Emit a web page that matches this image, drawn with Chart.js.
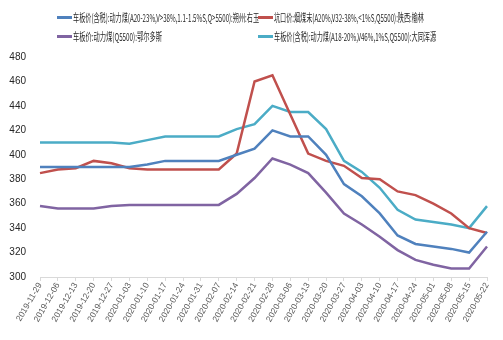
<!DOCTYPE html>
<html lang="zh-CN">
<head>
    <meta charset="UTF-8">
    <title>动力煤价格走势</title>
    <script src="https://cdn.jsdelivr.net/npm/chart.js"></script>
    <style>
        body { margin: 0; background: #fff; }
        #wrap { position: relative; width: 503px; height: 340px; }
        #legend { position: absolute; left: 0; top: 0; width: 503px; height: 48px;
                  font-family: "Noto Sans CJK SC", sans-serif; font-size: 11px; color: #262626; }
        .item { position: absolute; white-space: nowrap; height: 14px; line-height: 14px; }
        .swatch { position: absolute; left: 0; top: 6px; width: 15px; height: 3px; }
        .txt { position: absolute; left: 16px; top: 0; transform-origin: left center; }
    </style>
</head>
<body>
<div id="wrap">
    <canvas id="coalChart" width="503" height="340"></canvas>
    <div id="legend"></div>
</div>
<script>
    // weekly dates
    const labels = ['2019-11-29', '2019-12-06', '2019-12-13', '2019-12-20', '2019-12-27',
        '2020-01-03', '2020-01-10', '2020-01-17', '2020-01-24', '2020-01-31',
        '2020-02-07', '2020-02-14', '2020-02-21', '2020-02-28', '2020-03-06',
        '2020-03-13', '2020-03-20', '2020-03-27', '2020-04-03', '2020-04-10',
        '2020-04-17', '2020-04-24', '2020-05-01', '2020-05-08', '2020-05-15', '2020-05-22'];

    const youyu = [390, 390, 390, 390, 390, 390, 392, 395, 395, 395, 395, 400, 405, 420, 415, 415, 400, 376, 366, 352, 334, 327, 325, 323, 320, 337];
    const yulin = [385, 388, 389, 395, 393, 389, 388, 388, 388, 388, 388, 401, 460, 465, 433, 401, 395, 391, 381, 380, 370, 367, 360, 352, 340, 336];
    const ordos = [358, 356, 356, 356, 358, 359, 359, 359, 359, 359, 359, 368, 381, 397, 392, 385, 369, 352, 343, 333, 322, 314, 310, 307, 307, 325];
    const hunyuan = [410, 410, 410, 410, 410, 409, 412, 415, 415, 415, 415, 421, 425, 440, 435, 435, 421, 395, 386, 373, 355, 347, 345, 343, 340, 358];

    const seriesNames = [
        '车板价(含税):动力煤(A20-23%,V>38%,1.1-1.5%S,Q>5500):朔州:右玉',
        '坑口价:烟煤末(A20%,V32-38%,<1%S,Q5500):陕西:榆林',
        '车板价:动力煤(Q5500):鄂尔多斯',
        '车板价(含税):动力煤(A18-20%,V46%,1%S,Q5500):大同浑源'
    ];
    const seriesColors = ['#4F81BD', '#C0504D', '#8064A2', '#4BACC6'];
    const yMin = 300, yMax = 480, yStep = 20;

    const seriesData = [youyu, yulin, ordos, hunyuan];

    new Chart(document.getElementById('coalChart'), {
        type: 'line',
        data: {
            labels: labels,
            datasets: seriesData.map((d, i) => ({
                label: seriesNames[i],
                data: d,
                borderColor: seriesColors[i],
                backgroundColor: seriesColors[i],
                borderWidth: 2.5,
                pointRadius: 0,
                tension: 0,
                fill: false
            }))
        },
        options: {
            responsive: false,
            animation: false,
            layout: { padding: { top: 57, right: 16, left: 0, bottom: 0 } },
            plugins: { legend: { display: false }, tooltip: { enabled: false } },
            scales: {
                x: {
                    offset: false,
                    grid: { drawOnChartArea: false, tickLength: 4, color: '#d9d9d9' },
                    border: { color: '#d9d9d9' },
                    ticks: {
                        autoSkip: false, minRotation: 60, maxRotation: 60, padding: 0,
                        color: '#595959',
                        font: { family: '"Liberation Sans", sans-serif', size: 8.5 }
                    },
                    afterFit(s) { s.height = 63; }
                },
                y: {
                    min: yMin, max: yMax,
                    grid: { display: false },
                    border: { display: false },
                    ticks: {
                        stepSize: yStep, padding: 6, color: '#262626',
                        font: { family: '"Liberation Sans Narrow", sans-serif', size: 10 }
                    },
                    afterFit(s) { s.width = 40; }
                }
            }
        }
    });

    // legend laid out in two columns like the original
    const legendPos = [[57, 10], [258, 10], [57, 29], [258, 29]];
    const legendWidth = [186, 150, 89, 162];
    const legend = document.getElementById('legend');
    seriesNames.forEach((name, i) => {
        const item = document.createElement('div');
        item.className = 'item';
        item.style.left = legendPos[i][0] + 'px';
        item.style.top = legendPos[i][1] + 'px';
        const sw = document.createElement('span');
        sw.className = 'swatch';
        sw.style.background = seriesColors[i];
        const txt = document.createElement('span');
        txt.className = 'txt';
        txt.textContent = name;
        item.appendChild(sw);
        item.appendChild(txt);
        legend.appendChild(item);
        const w = txt.getBoundingClientRect().width;
        txt.style.transform = 'scaleX(' + (legendWidth[i] / w).toFixed(3) + ')';
    });
</script>
</body>
</html>
